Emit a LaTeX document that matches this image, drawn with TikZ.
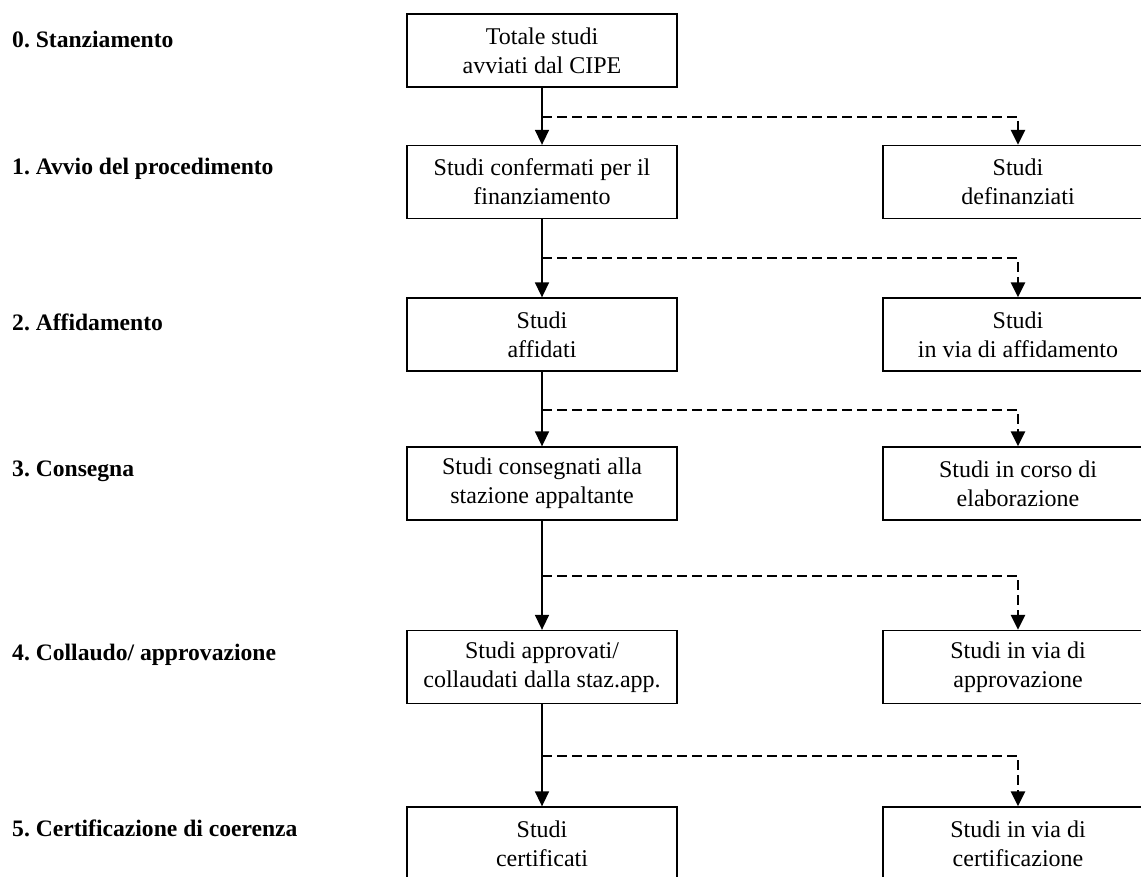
\documentclass[tikz,border=0pt]{standalone}
\usepackage{fontspec}
\setmainfont{Liberation Serif}
\usetikzlibrary{arrows.meta}
\frenchspacing
\begin{document}
\begin{tikzpicture}[x=1pt,y=-1pt,
  box/.style={draw, line width=1.3pt, minimum width=270pt, minimum height=73pt,
    inner sep=0pt, align=center, font=\fontsize{24}{29}\selectfont},
  lab/.style={anchor=west, inner sep=0pt, font=\fontsize{23.6}{28}\selectfont\bfseries},
  flow/.style={line width=1.6pt, -{Triangle[length=15pt,width=14pt]}},
  alt/.style={line width=2.5pt, dash pattern=on 10pt off 5pt, -{Triangle[length=15pt,width=14pt]}}]
\useasboundingbox (0,0) rectangle (1141,877);
% stage labels
\node[lab] (S0) at (12,39) {0. Stanziamento};
\node[lab] (S1) at (12,169) {1. Avvio del procedimento};
\node[lab] (S2) at (12,322) {2. Affidamento};
\node[lab] (S3) at (12,471) {3. Consegna};
\node[lab] (S4) at (12,655) {4. Collaudo/ approvazione};
\node[lab] (S5) at (12,828) {5. Certificazione di coerenza};
% main column
\node[box] (L0) at (542,50.5) {Totale studi\\avviati dal CIPE};
\node[box] (L1) at (542,182) {Studi confermati per il\\finanziamento};
\node[box] (L2) at (542,334.5) {Studi\\affidati};
\node[box] (L3) at (542,483.5) {Studi consegnati alla\\stazione appaltante};
\node[box] (L4) at (542,667) {Studi approvati/\\collaudati dalla staz.app.};
\node[box] (L5) at (542,843.5) {Studi\\certificati};
% side column
\node[box] (R1) at (1018,182) {Studi\\definanziati};
\node[box] (R2) at (1018,334.5) {Studi\\in via di affidamento};
\node[box] (R3) at (1018,483.5) {Studi in corso di\\elaborazione};
\node[box] (R4) at (1018,667) {Studi in via di\\approvazione};
\node[box] (R5) at (1018,843.5) {Studi in via di\\certificazione};
% branch points
\coordinate (b1) at (542,117);
\coordinate (b2) at (542,258);
\coordinate (b3) at (542,410);
\coordinate (b4) at (542,576);
\coordinate (b5) at (542,756);
% connectors
\draw[flow] (L0) -- (L1);
\draw[flow] (L1) -- (L2);
\draw[flow] (L2) -- (L3);
\draw[flow] (L3) -- (L4);
\draw[flow] (L4) -- (L5);
\draw[alt] (b1) -| (R1.north);
\draw[alt] (b2) -| (R2.north);
\draw[alt] (b3) -| (R3.north);
\draw[alt] (b4) -| (R4.north);
\draw[alt] (b5) -| (R5.north);
\end{tikzpicture}
\end{document}
